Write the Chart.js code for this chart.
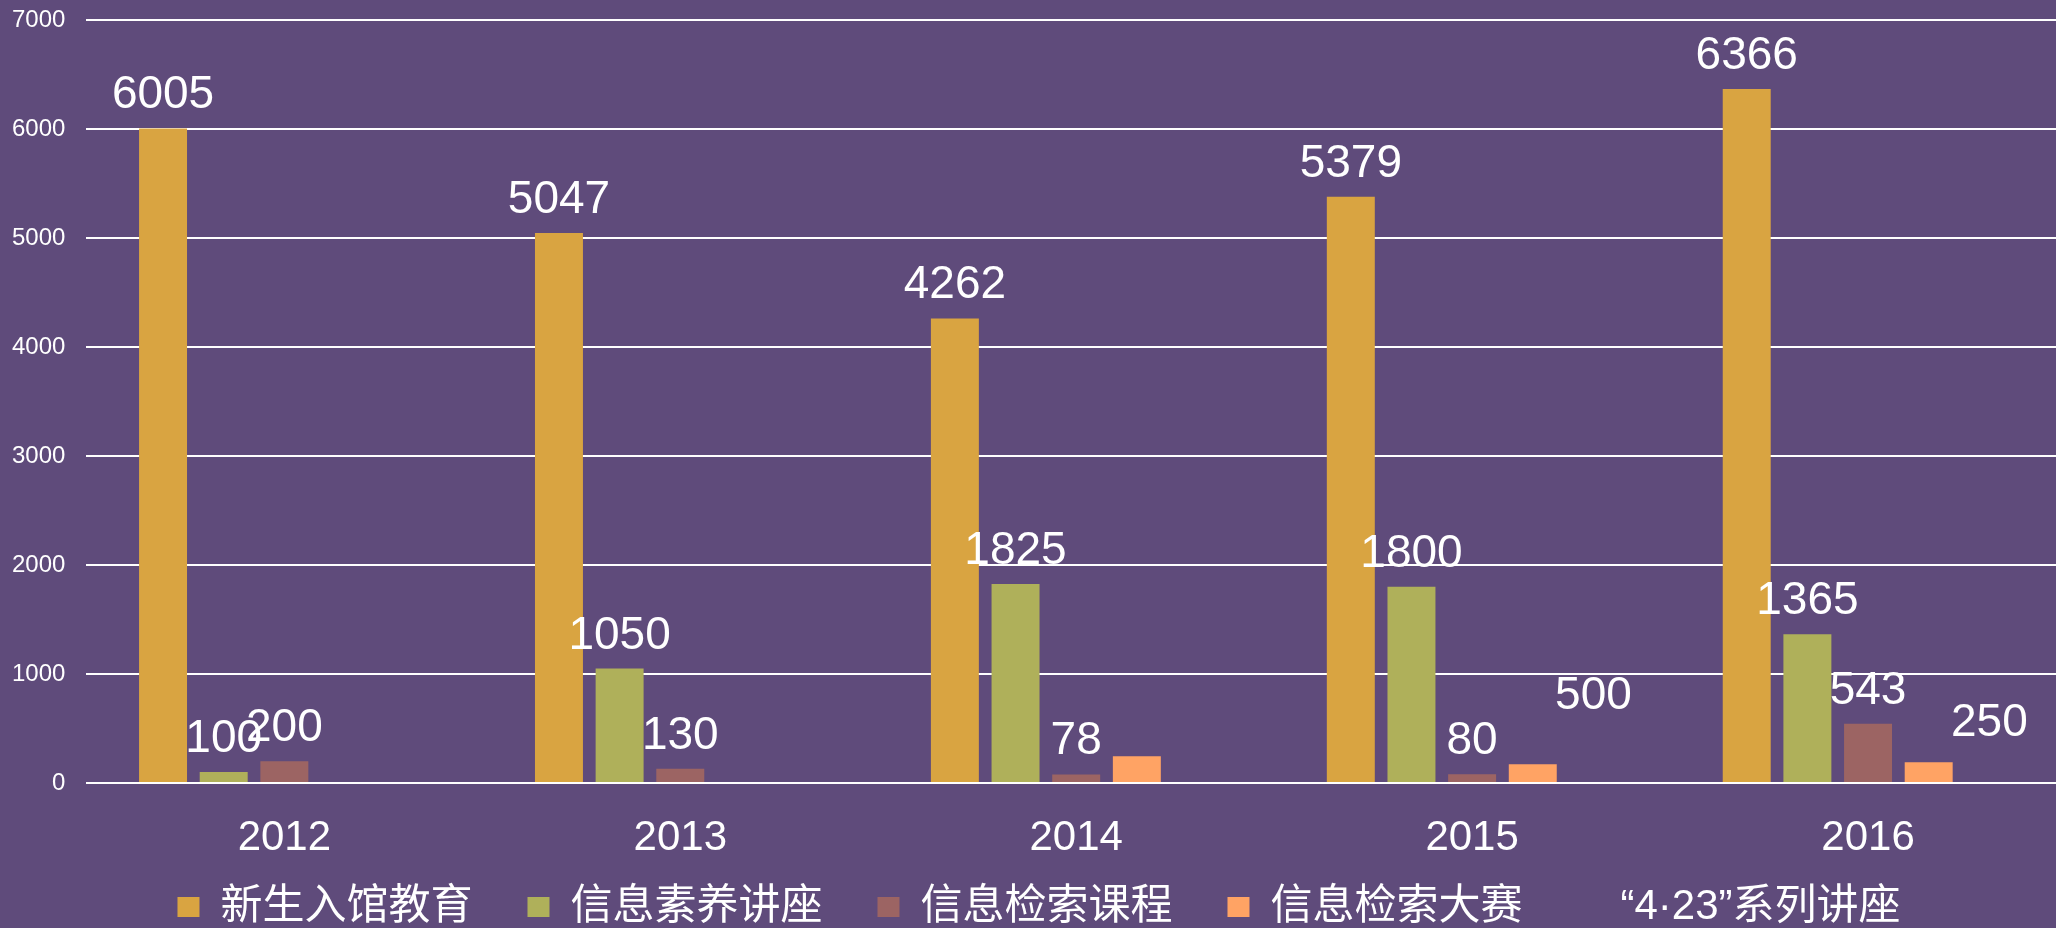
<!DOCTYPE html>
<html>
<head>
<meta charset="utf-8">
<script src="https://cdn.jsdelivr.net/npm/chart.js@4/dist/chart.umd.min.js"></script>
<style>
  html, body { margin: 0; padding: 0; background: #5f4b7b; overflow: hidden; }
  .chart-wrap { width: 2066px; height: 928px; }
</style>
</head>
<body>
<div class="chart-wrap"><canvas id="myChart"></canvas></div>
<script>
const years = ['2012', '2013', '2014', '2015', '2016'];
const seriesNames = ['新生入馆教育', '信息素养讲座', '信息检索课程', '信息检索大赛', '“4·23”系列讲座'];

const freshmen = [6005, 5047, 4262, 5379, 6366];
const literacy = [100, 1050, 1825, 1800, 1365];
const course = [200, 130, 78, 80, 543];
const contest = [null, null, 245, 172, 190];
const lectures = [null, null, null, 500, 250];

const yTicks = [0, 1000, 2000, 3000, 4000, 5000, 6000, 7000];

const colors = ['#d9a441', '#afb05a', '#9c6463', '#ffa364', 'rgba(0,0,0,0)'];
const showLabels = [true, true, true, false, true];

const fontFamily = '"Liberation Sans", "Noto Sans CJK SC", Arial, sans-serif';

// value labels above the bars (no datalabels plugin available)
const valueLabels = {
  id: 'valueLabels',
  afterDatasetsDraw(chart) {
    const ctx = chart.ctx;
    ctx.save();
    ctx.fillStyle = '#ffffff';
    ctx.font = '46px ' + fontFamily;
    ctx.textAlign = 'center';
    ctx.textBaseline = 'alphabetic';
    chart.data.datasets.forEach((ds, i) => {
      if (!showLabels[i]) return;
      const meta = chart.getDatasetMeta(i);
      meta.data.forEach((bar, j) => {
        const v = ds.data[j];
        if (v === null || v === undefined) return;
        ctx.fillText(String(v), bar.x, bar.y - 20);
      });
    });
    ctx.restore();
  }
};

// x axis is kept short so the legend sits close; let its labels draw past the box
const xLabelRoom = {
  id: 'xLabelRoom',
  afterLayout(chart) {
    const x = chart.scales.x;
    x.bottom = x.top + 90;
  }
};

const allData = [freshmen, literacy, course, contest, lectures];

const data = {
  labels: years,
  datasets: allData.map((vals, i) => ({
    label: seriesNames[i],
    data: vals,
    backgroundColor: colors[i],
    borderWidth: 0,
    categoryPercentage: 0.766,
    barPercentage: 0.791
  }))
};

const config = {
  type: 'bar',
  data: data,
  options: {
    responsive: true,
    maintainAspectRatio: false,
    animation: false,
    layout: {
      padding: { left: 12, top: 20, right: 0, bottom: -10 }
    },
    plugins: {
      legend: {
        position: 'bottom',
        labels: {
          color: '#ffffff',
          boxWidth: 22,
          boxHeight: 20,
          padding: 55,
          font: { size: 42, family: fontFamily }
        }
      },
      tooltip: { enabled: false }
    },
    scales: {
      x: {
        grid: { display: false, drawTicks: false },
        border: { display: false },
        afterFit: (axis) => { axis.height = 48; },
        ticks: {
          color: '#ffffff',
          padding: 30,
          font: { size: 42, family: fontFamily }
        }
      },
      y: {
        min: 0,
        max: 7000,
        afterBuildTicks: (axis) => {
          axis.ticks = yTicks.map(v => ({ value: v }));
        },
        afterFit: (axis) => {
          axis.paddingTop = 0;
          axis.paddingBottom = 0;
          axis.width -= axis.options.ticks.padding;
        },
        grid: { color: '#ffffff', lineWidth: 2, drawTicks: false },
        border: { display: false },
        ticks: {
          color: '#ffffff',
          padding: 21,
          font: { size: 24, family: fontFamily },
          callback: (v) => String(v)
        }
      }
    }
  },
  plugins: [valueLabels, xLabelRoom]
};

const myChart = new Chart(document.getElementById('myChart'), config);
</script>
</body>
</html>
